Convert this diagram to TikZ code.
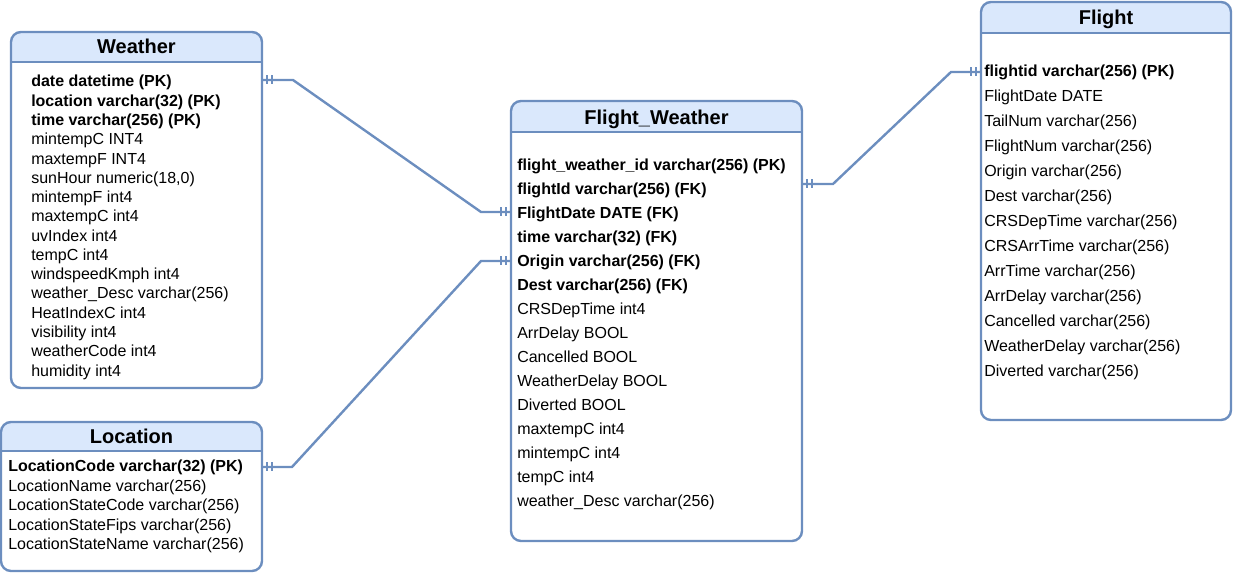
\documentclass[tikz,border=0pt]{standalone}
\usepackage{fontspec}
\setmainfont{Liberation Sans}
\usetikzlibrary{calc}
\definecolor{erline}{HTML}{6C8EBF}
\definecolor{erfill}{HTML}{DAE8FC}
\newcommand\ertable[6]{%
  \node[tbl, minimum width={(#4-#2)*0.75pt}, minimum height={(#5-#3)*0.75pt}] (#1) at (#2,#3) {};
  \begin{scope}
    \clip (#2,#3) rectangle (#4,#6);
    \fill[erfill, rounded corners=7.5pt] (#2,#3) rectangle (#4,#5);
  \end{scope}
  \draw[erline, line width=1.8pt] (#2,#6) -- (#4,#6);
  \draw[frame] (#2,#3) rectangle (#4,#5);
}
\newcommand\erticks[2]{%
  \draw[tick] ($(#1)+(#2*5,-4.5)$) -- ++(0,9);
  \draw[tick] ($(#1)+(#2*10,-4.5)$) -- ++(0,9);
}
\begin{document}
\begin{tikzpicture}[x=0.75pt,y=-0.75pt,
  tbl/.style={rectangle, inner sep=0, outer sep=0, anchor=north west, fill=white},
  frame/.style={draw=erline, line width=1.8pt, rounded corners=7.5pt},
  hdrtxt/.style={anchor=base, inner sep=0, font=\fontsize{15}{18}\selectfont\bfseries},
  rowtxt/.style={anchor=base west, inner sep=0, font=\fontsize{12}{14}\selectfont},
  keytxt/.style={anchor=base west, inner sep=0, font=\fontsize{12}{14}\selectfont\bfseries},
  rel/.style={draw=erline, line width=1.8pt},
  tick/.style={draw=erline, line width=1.6pt},
]
\useasboundingbox (0,0) rectangle (1233,573);

% tables
\ertable{weather}{11}{32}{262}{388}{62}
\ertable{loc}{1}{422}{262}{571}{451}
\ertable{fw}{511}{101}{802}{541}{132}
\ertable{flight}{981}{2}{1231}{420}{33}

% headers
\node[hdrtxt] (weatherh) at (136.5,54) {Weather};
\node[hdrtxt] (loch) at (131.5,444) {Location};
\node[hdrtxt] (fwh) at (656.5,125) {Flight\_Weather};
\node[hdrtxt] (flighth) at (1106,25) {Flight};

% Weather rows
\foreach [count=\i from 0] \t in {date datetime (PK), location varchar(32) (PK), time varchar(256) (PK)}
  \node[keytxt] (w\i) at (31,87+19.27*\i) {\t};
\foreach [count=\i from 3] \t in {mintempC INT4, maxtempF INT4, {sunHour numeric(18,0)}, mintempF int4, maxtempC int4, uvIndex int4, tempC int4, windspeedKmph int4, weather\_Desc varchar(256), HeatIndexC int4, visibility int4, weatherCode int4, humidity int4}
  \node[rowtxt] (w\i) at (31,87+19.27*\i) {\t};

% Location rows
\node[keytxt] (l0) at (8,472) {LocationCode varchar(32) (PK)};
\foreach [count=\i from 1] \t in {LocationName varchar(256), LocationStateCode varchar(256), LocationStateFips varchar(256), LocationStateName varchar(256)}
  \node[rowtxt] (l\i) at (8,472+19.5*\i) {\t};

% Flight_Weather rows
\foreach [count=\i from 0] \t in {flight\_weather\_id varchar(256) (PK), flightId varchar(256) (FK), FlightDate DATE (FK), time varchar(32) (FK), Origin varchar(256) (FK), Dest varchar(256) (FK)}
  \node[keytxt] (fw\i) at (517,171+24*\i) {\t};
\foreach [count=\i from 6] \t in {CRSDepTime int4, ArrDelay BOOL, Cancelled BOOL, WeatherDelay BOOL, Diverted BOOL, maxtempC int4, mintempC int4, tempC int4, weather\_Desc varchar(256)}
  \node[rowtxt] (fw\i) at (517,171+24*\i) {\t};

% Flight rows
\node[keytxt] (f0) at (984,77) {flightid varchar(256) (PK)};
\foreach [count=\i from 1] \t in {FlightDate DATE, TailNum varchar(256), FlightNum varchar(256), Origin varchar(256), Dest varchar(256), CRSDepTime varchar(256), CRSArrTime varchar(256), ArrTime varchar(256), ArrDelay varchar(256), Cancelled varchar(256), WeatherDelay varchar(256), Diverted varchar(256)}
  \node[rowtxt] (f\i) at (984,77+25*\i) {\t};

% connectors
\coordinate (c1a) at (weather.east |- 0,80);
\coordinate (c1b) at (fw.west |- 0,212);
\draw[rel] (c1a) -- ++(31,0) -- ($(c1b)+(-30,0)$) -- (c1b);
\erticks{c1a}{1}
\erticks{c1b}{-1}

\coordinate (c2a) at (loc.east |- 0,467);
\coordinate (c2b) at (fw.west |- 0,261);
\draw[rel] (c2a) -- ++(30,0) -- ($(c2b)+(-30,0)$) -- (c2b);
\erticks{c2a}{1}
\erticks{c2b}{-1}

\coordinate (c3a) at (fw.east |- 0,184);
\coordinate (c3b) at (flight.west |- 0,72);
\draw[rel] (c3a) -- ++(31,0) -- ($(c3b)+(-30,0)$) -- (c3b);
\erticks{c3a}{1}
\erticks{c3b}{-1}
\end{tikzpicture}
\end{document}
